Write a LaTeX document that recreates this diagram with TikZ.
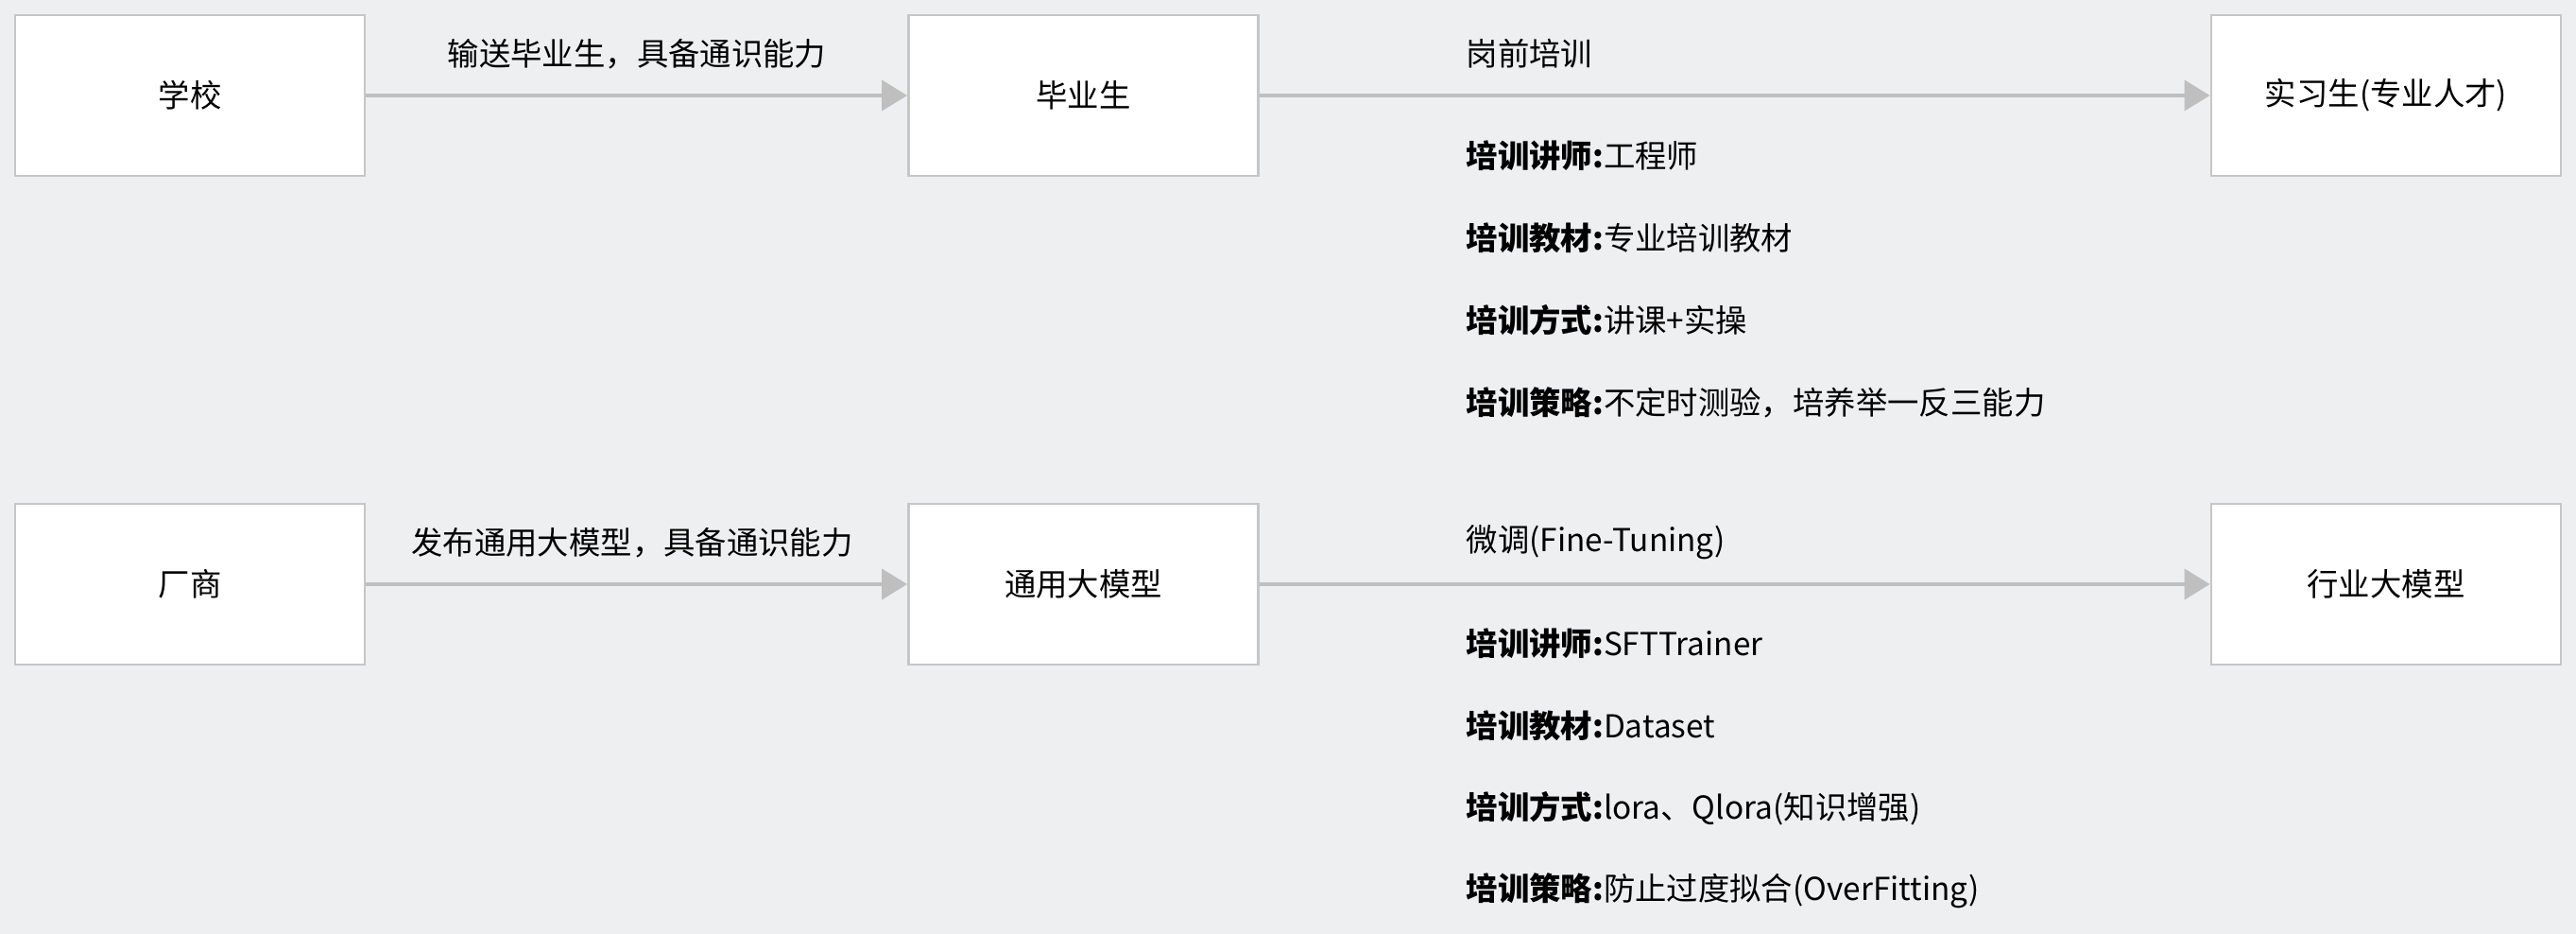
\documentclass[tikz,border=0pt]{standalone}
\usepackage{fontspec}
\setmainfont{Noto Sans CJK SC}
\usetikzlibrary{arrows.meta}
\usetikzlibrary{positioning}
\definecolor{bgcol}{HTML}{EEEFF1}
\definecolor{boxline}{HTML}{C6C6C6}
\definecolor{flowcol}{HTML}{BFBFBF}
\tikzset{stage/.style = {draw = boxline, line width = 0.8pt, fill = white,
                         minimum width = 3.7cm, minimum height = 1.7cm,
                         inner sep = 0pt, font = \fontsize{9.5}{11}\selectfont},
         flow/.style = {draw = flowcol, line width = 1.2pt,
                        -{Triangle[length = 0.27cm, width = 0.32cm]}},
         note/.style = {anchor = west, inner sep = 0pt, font = \fontsize{9.5}{11}\selectfont},
         tag/.style = {inner sep = 0pt, font = \fontsize{9.5}{11}\selectfont}}

\begin{document}
\begin{tikzpicture}
      \fill [bgcol] (0, 0) rectangle (27.26, -9.88);
      \useasboundingbox (0, 0) rectangle (27.26, -9.88);

      % top row
      \node [stage] (school) at (2.01, -1.01) {学校};
      \node [stage] (grad) at (11.465, -1.01) {毕业生};
      \node [stage] (intern) at (25.25, -1.01) {实习生(专业人才)};
      \node [tag] (sendlbl) at (6.74, -0.57) {输送毕业生，具备通识能力};
      \node [note] (trainlbl) at (15.51, -0.57) {岗前培训};
      \draw [flow] (school) -- (grad);
      \draw [flow] (grad) -- (intern);
      \node [note] (t1) at (15.51, -1.65) {\textbf{培训讲师:}工程师};
      \node [note] (t2) at (15.51, -2.52) {\textbf{培训教材:}专业培训教材};
      \node [note] (t3) at (15.51, -3.39) {\textbf{培训方式:}讲课+实操};
      \node [note] (t4) at (15.51, -4.26) {\textbf{培训策略:}不定时测验，培养举一反三能力};

      % bottom row
      \node [stage] (vendor) at (2.01, -6.18) {厂商};
      \node [stage] (base) at (11.465, -6.18) {通用大模型};
      \node [stage] (domain) at (25.25, -6.18) {行业大模型};
      \node [tag] (publbl) at (6.69, -5.74) {发布通用大模型，具备通识能力};
      \node [note] (tunelbl) at (15.51, -5.74) {微调(Fine-Tuning)};
      \draw [flow] (vendor) -- (base);
      \draw [flow] (base) -- (domain);
      \node [note] (m1) at (15.51, -6.81) {\textbf{培训讲师:}SFTTrainer};
      \node [note] (m2) at (15.51, -7.68) {\textbf{培训教材:}Dataset};
      \node [note] (m3) at (15.51, -8.55) {\textbf{培训方式:}lora、Qlora(知识增强)};
      \node [note] (m4) at (15.51, -9.42) {\textbf{培训策略:}防止过度拟合(OverFitting)};
\end{tikzpicture}
\end{document}
